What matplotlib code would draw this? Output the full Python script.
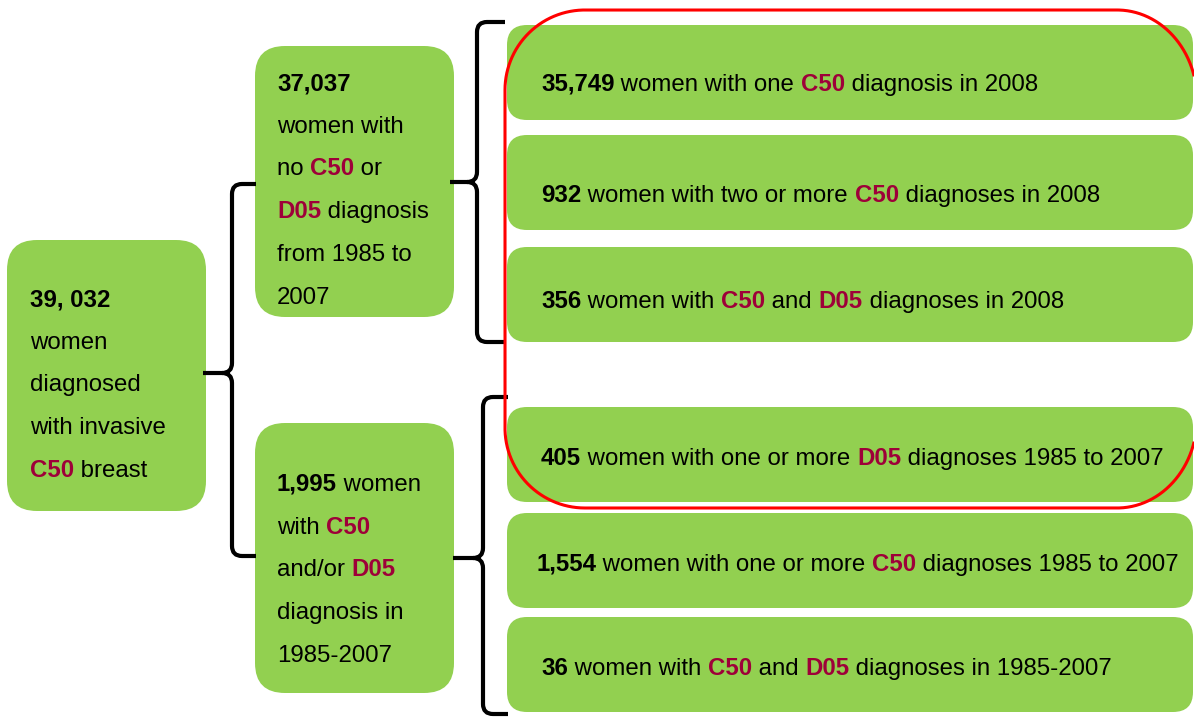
import matplotlib
matplotlib.use('Agg')
from matplotlib import pyplot as plt
from matplotlib.patches import FancyBboxPatch, PathPatch
from matplotlib.path import Path
import numpy as np

W, H = 1194, 718
GREEN = '#92D050'
CRIMSON = '#9E0039'

# text lines; **x** = bold, [x] = bold crimson
left_lines = ['**39, 032**', 'women', 'diagnosed', 'with invasive', '[C50] breast']
mid_top_lines = ['**37,037**', 'women with', 'no [C50] or', '[D05] diagnosis', 'from 1985 to', '2007']
mid_bot_lines = ['**1,995** women', 'with [C50]', 'and/or [D05]', 'diagnosis in', '1985-2007']
right_lines = [
    '**35,749** women with one [C50] diagnosis in 2008',
    '**932** women with two or more [C50] diagnoses in 2008',
    '**356** women with [C50] and [D05] diagnoses in 2008',
    '**405** women with one or more [D05] diagnoses 1985 to 2007',
    '**1,554** women with one or more [C50] diagnoses 1985 to 2007',
    '**36** women with [C50] and [D05] diagnoses in 1985-2007',
]


def parse(line):
    parts = []
    i = 0
    while i < len(line):
        if line.startswith('**', i):
            j = line.index('**', i + 2)
            parts.append((line[i + 2:j], 'black', 'bold'))
            i = j + 2
        elif line[i] == '[':
            j = line.index(']', i)
            parts.append((line[i + 1:j], CRIMSON, 'bold'))
            i = j + 1
        else:
            j = i
            while j < len(line) and not line.startswith('**', j) and line[j] != '[':
                j += 1
            parts.append((line[i:j], 'black', 'normal'))
            i = j
    return parts


fig = plt.figure(figsize=(W / 100, H / 100), dpi=100)
ax = fig.add_axes([0, 0, 1, 1])
ax.set_xlim(0, W)
ax.set_ylim(H, 0)
ax.axis('off')
renderer = fig.canvas.get_renderer()


def rich_line(x, y, line, size=17.3):
    for txt, col, wt in parse(line):
        t = ax.text(x, y, txt, color=col, fontweight=wt, fontsize=size,
                    family='Liberation Sans', va='baseline', ha='left', zorder=5)
        x += t.get_window_extent(renderer).width


def box(x0, y0, x1, y1, r):
    ax.add_patch(FancyBboxPatch((x0, y0), x1 - x0, y1 - y0,
                                boxstyle=f'round,pad=0,rounding_size={r}',
                                fc=GREEN, ec='none', zorder=1))


def brace(xv, yt, yb, ym, xtip, xhook, r=10):
    verts = [(xhook, yt), (xv + r, yt), (xv, yt), (xv, yt + r),
             (xv, ym - r), (xv, ym), (xv - r, ym), (xtip, ym),
             (xv - r, ym), (xv, ym), (xv, ym + r),
             (xv, yb - r), (xv, yb), (xv + r, yb), (xhook, yb)]
    codes = [Path.MOVETO, Path.LINETO, Path.CURVE3, Path.CURVE3,
             Path.LINETO, Path.CURVE3, Path.CURVE3, Path.LINETO,
             Path.MOVETO, Path.CURVE3, Path.CURVE3,
             Path.LINETO, Path.CURVE3, Path.CURVE3, Path.LINETO]
    ax.add_patch(PathPatch(Path(verts, codes), fc='none', ec='black',
                           lw=3, capstyle='butt', joinstyle='round', zorder=4))


def corner(cx, cy, rx, ry, a0, a1):
    t = np.radians(np.linspace(a0, a1, 60))
    return cx + rx * np.cos(t), cy - ry * np.sin(t)


def red_outline(x0, y0, x1, y1, rl, rrx, rry):
    # corners in order: top-right, top-left, bottom-left, bottom-right
    pieces = [corner(x1 - rrx, y0 + rry, rrx, rry, 0, 90),
              corner(x0 + rl, y0 + rl, rl, rl, 90, 180),
              corner(x0 + rl, y1 - rl, rl, rl, 180, 270),
              corner(x1 - rrx, y1 - rry, rrx, rry, 270, 360)]
    xs = np.concatenate([p[0] for p in pieces])
    ys = np.concatenate([p[1] for p in pieces])
    keep = xs <= W + 0.5  # the right side runs off the picture
    ax.plot(xs[keep], ys[keep], color='#FF0000', lw=2.2, zorder=6,
            solid_capstyle='butt')


# left + middle boxes
box(7, 240, 206, 511, 30)
box(255, 46, 454, 317, 30)
box(255, 423, 454, 693, 30)

# right boxes
right_y = [(25, 120), (135, 230), (247, 342), (407, 502), (513, 608), (617, 712)]
for y0, y1 in right_y:
    box(507, y0, 1193, y1, 20)

# braces
brace(232, 184, 556, 373, 203, 256)
brace(477, 22, 342, 182, 450, 505)
brace(483, 397, 714, 558, 453, 508)

red_outline(505, 10, 1197, 508, 80, 80, 90)

step = 42.7
for k, line in enumerate(left_lines):
    rich_line(30, 306 + k * step, line)
for k, line in enumerate(mid_top_lines):
    rich_line(277, 90 + k * step, line)
for k, line in enumerate(mid_bot_lines):
    rich_line(277, 491 + k * step, line)

right_base = [91, 202, 308, 465, 571, 675]
right_x = [541, 541, 541, 541, 536, 541]
for line, x, y in zip(right_lines, right_x, right_base):
    rich_line(x, y, line)

fig.savefig('out.png', dpi=100)
